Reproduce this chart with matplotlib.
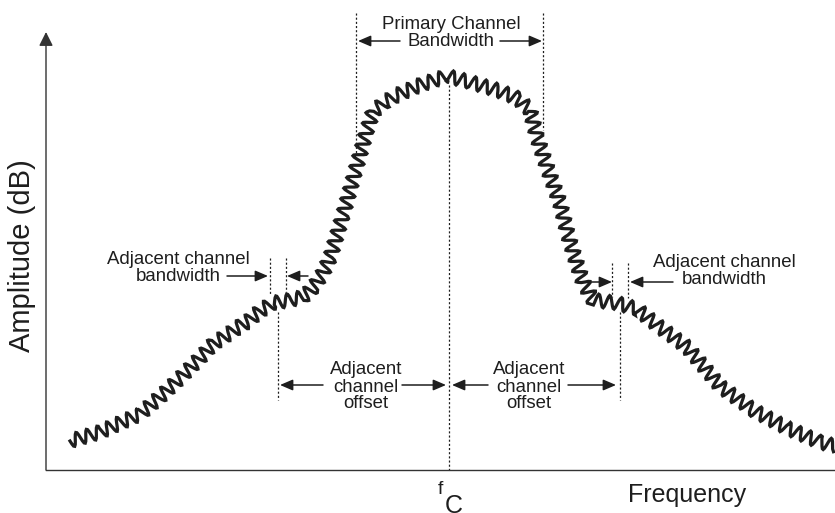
import matplotlib
matplotlib.use('Agg')
import matplotlib.pyplot as plt

# --- spectrum envelope (arbitrary units) ---
freq = [2.4, 5.4, 9.4, 11.4, 13.4, 15.4, 16.7, 18.4, 19.4, 20.1, 21.4, 22.7,
        24.4, 25.7, 26.7, 27.7, 28.4, 29.7, 30.9, 32.1, 32.7, 33.9, 35.1,
        37.4, 40.1, 42.4, 45.1, 47.1, 48.4, 49.1, 50.1, 51.4, 52.2, 52.9,
        53.7, 54.7, 57.1, 59.1, 61.1, 64.1, 67.4, 70.7, 74.1, 77.4, 78.9]
amp = [2.9, 3.8, 5.6, 7.3, 9.2, 11.2, 12.6, 13.7, 14.4, 14.8, 15.9, 16.7,
       17.0, 17.3, 18.2, 19.7, 21.2, 25.5, 29.8, 34.0, 35.8, 36.8, 37.5,
       38.5, 39.4, 38.8, 38.0, 37.2, 36.0, 33.3, 30.3, 26.7, 23.5, 21.2,
       18.8, 17.0, 16.7, 16.1, 14.5, 12.3, 8.4, 6.0, 4.2, 2.8, 2.4]

# channel layout
fc = 40.3
primary_edges = [31.0, 49.7]
adj_centers = [23.2, 57.4]
adj_half_bw = 0.8

plt.rcParams['font.family'] = ['Liberation Sans', 'DejaVu Sans']
plt.rcParams['lines.scale_dashes'] = False
INK = '#1e1e1e'

fig = plt.figure(figsize=(8.35, 5.13), dpi=100)
ax = fig.add_axes([46 / 835, 43 / 513, 789 / 835, 470 / 513])
ax.set_xlim(0, 78.9)
ax.set_ylim(0, 47)
ax.set_xticks([])
ax.set_yticks([])
for side in ['top', 'right', 'left']:
    ax.spines[side].set_visible(False)
ax.spines['bottom'].set_color('#333333')
ax.spines['bottom'].set_linewidth(1.0)

# y axis with arrow head
ax.annotate('', xy=(0, 43.8), xytext=(0, 0), annotation_clip=False,
            arrowprops=dict(arrowstyle='-|>,head_length=0.6,head_width=0.3',
                            mutation_scale=14, lw=1.0, color='#333333',
                            shrinkA=0, shrinkB=0))

# jagged spectrum (zigzag drawn as a sketch line style)
line, = ax.plot(freq, amp, color=INK, lw=2.3, solid_joinstyle='miter',
                clip_on=False)
line.set_sketch_params(scale=6.5, length=11, randomness=1)

# dotted guide lines
dot = dict(color=INK, lw=0.9, ls=(0, (1.5, 1.5)), clip_on=False)
ax.plot([primary_edges[0]] * 2, [45.7, 31.5], **dot)
ax.plot([primary_edges[1]] * 2, [45.7, 34.0], **dot)
ax.plot([fc, fc], [38.5, 0], **dot)
ax.plot([adj_centers[0] - adj_half_bw] * 2, [21.2, 17.5], **dot)
ax.plot([adj_centers[0] + adj_half_bw] * 2, [21.2, 17.8], **dot)
ax.plot([adj_centers[1] - adj_half_bw] * 2, [20.7, 17.3], **dot)
ax.plot([adj_centers[1] + adj_half_bw] * 2, [20.7, 17.2], **dot)
ax.plot([adj_centers[0]] * 2, [15.8, 7.0], **dot)
ax.plot([adj_centers[1]] * 2, [15.8, 7.0], **dot)


def arrow(tail, head, y):
    ax.annotate('', xy=(head, y), xytext=(tail, y), annotation_clip=False,
                arrowprops=dict(arrowstyle='-|>,head_length=0.7,head_width=0.3',
                                mutation_scale=11, lw=1.1, color=INK,
                                shrinkA=0, shrinkB=0))


arrow(35.4, 31.2, 42.9)
arrow(45.4, 49.6, 42.9)
arrow(18.1, 22.2, 19.4)
arrow(26.2, 24.1, 19.4)
arrow(54.2, 56.6, 18.8)
arrow(62.7, 58.4, 18.8)
arrow(27.7, 23.4, 8.5)
arrow(35.6, 40.0, 8.5)
arrow(44.2, 40.6, 8.5)
arrow(52.2, 57.0, 8.5)

txt = dict(fontsize=13.4, color=INK, ha='center', va='center',
           linespacing=1.0)
ax.text(40.5, 43.7, 'Primary Channel\nBandwidth', **txt)
ax.text(13.2, 20.2, 'Adjacent channel\nbandwidth', **txt)
ax.text(67.8, 19.9, 'Adjacent channel\nbandwidth', **txt)
ax.text(32.0, 8.3, 'Adjacent\nchannel\noffset', **txt)
ax.text(48.3, 8.3, 'Adjacent\nchannel\noffset', **txt)

ax.text(64.1, -2.5, 'Frequency', fontsize=18, color=INK, ha='center',
        va='center')
ax.text(39.4, -2.0, 'f', fontsize=14, color=INK, ha='center', va='center')
ax.text(40.8, -3.6, 'C', fontsize=18, color=INK, ha='center', va='center')
ax.text(-2.4, 21.4, 'Amplitude (dB)', fontsize=21, color=INK, ha='center',
        va='center', rotation=90)

fig.savefig('out.png', dpi=100)
